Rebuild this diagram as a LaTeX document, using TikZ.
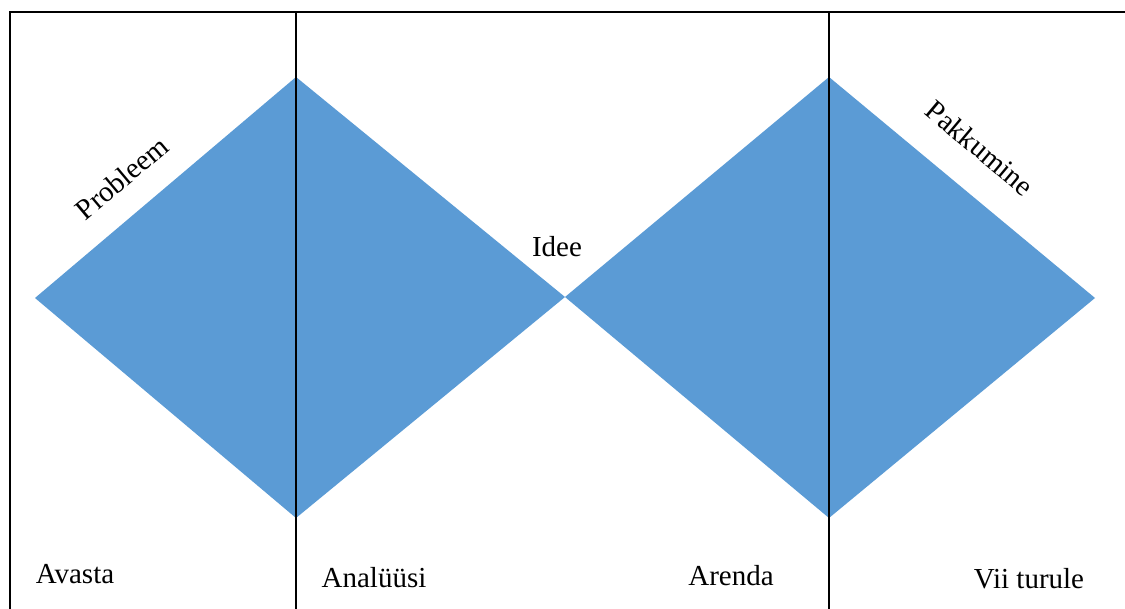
\documentclass[tikz,border=0pt]{standalone}
\usepackage{fontspec}
\setmainfont{Liberation Serif}
\usetikzlibrary{positioning}
\definecolor{ideablue}{HTML}{5B9BD5}

\begin{document}
\begin{tikzpicture}[
  x=1pt, y=-1pt,
  font=\fontsize{29}{33}\selectfont,
  phase/.style={fill=ideablue, draw=none},
  rule/.style={draw=black, line width=1.4pt},
  lbl/.style={inner sep=0pt, anchor=base},
  edgelbl/.style={inner sep=0pt}
]
\useasboundingbox (0,0) rectangle (1125,609);
% diamond corners
\coordinate (d1w) at (35,298);
\coordinate (d1n) at (296,77);
\coordinate (d1s) at (296,518);
\coordinate (mid) at (565,297);
\coordinate (d2n) at (829,77);
\coordinate (d2s) at (829,518);
\coordinate (d2e) at (1095,298);
\fill[phase] (d1w) -- (d1n) -- (mid) -- (d1s) -- cycle;
\fill[phase] (mid) -- (d2n) -- (d2e) -- (d2s) -- cycle;
% frame and dividers
\draw[rule] (10,609) -- (10,12) -- (1125,12);
\draw[rule] (296,12) -- (296,609);
\draw[rule] (829,12) -- (829,609);
% labels
\node[edgelbl, rotate=40] (probleem) at (122,178) {Probleem};
\node[edgelbl, rotate=-40] (pakkumine) at (980,148) {Pakkumine};
\node[lbl] (idee) at (557,257) {Idee};
\node[lbl] (avasta) at (75,583) {Avasta};
\node[lbl] (analyysi) at (374,587) {Analüüsi};
\node[lbl] (arenda) at (731,585) {Arenda};
\node[lbl] (turule) at (1029,588) {Vii turule};
\end{tikzpicture}
\end{document}
